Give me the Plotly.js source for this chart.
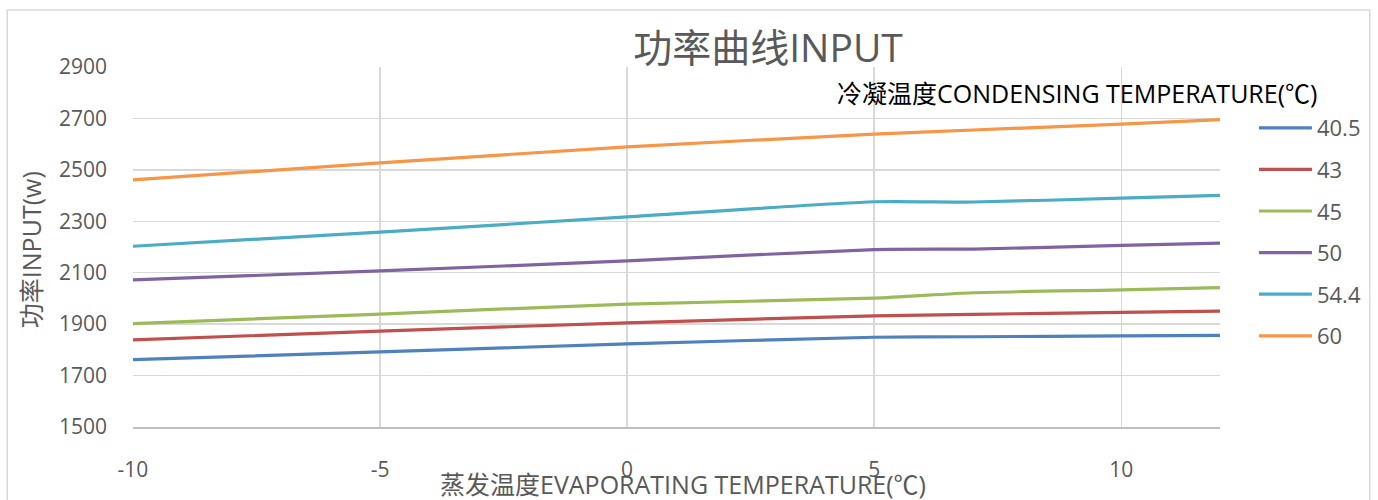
<!DOCTYPE html>
<html>
<head>
<meta charset="utf-8">
<script src="https://cdn.plot.ly/plotly-3.0.1.min.js"></script>
<style>
  html, body { margin: 0; padding: 0; background: #ffffff; }
  #chart { width: 1378px; height: 500px; }
</style>
</head>
<body>
<div id="chart"></div>
<script>
// Evaporating temperature (°C)
const evapTemps = [-10, -5, 0, 5, 7, 10, 12];
// Condensing temperature series names
const seriesNames = ['40.5', '43', '45', '50', '54.4', '60'];
// Power input (W) per condensing temperature
const input405 = [1762, 1792, 1823, 1849, 1851, 1854, 1856];
const input43  = [1839, 1873, 1905, 1932, 1938, 1946, 1951];
const input45  = [1902, 1939, 1978, 2001, 2022, 2033, 2042];
const input50  = [2072, 2107, 2146, 2190, 2192, 2206, 2215];
const input544 = [2203, 2258, 2317, 2376, 2375, 2390, 2401];
const input60  = [2461, 2527, 2589, 2639, 2655, 2678, 2695];
const xTicks = [-10, -5, 0, 5, 10];
const yTicks = [1500, 1700, 1900, 2100, 2300, 2500, 2700, 2900];

const seriesValues = [input405, input43, input45, input50, input544, input60];
const colors = ['#4f81bd', '#c0504d', '#9bbb59', '#8064a2', '#4bacc6', '#f79646'];

const FONT = '"Open Sans", "Noto Sans CJK SC", sans-serif';
const GREY = '#595959';

const traces = seriesNames.map((name, i) => ({
  x: evapTemps,
  y: seriesValues[i],
  name: name,
  type: 'scatter',
  mode: 'lines',
  line: { color: colors[i], width: 3.2, shape: 'spline', smoothing: 0.6 },
  legendgroup: 'g' + i,
  hoverinfo: 'x+y+name'
}));

const L = 133, R = 1222, T = 67, B = 427;
const W = R - L, H = B - T;
const px = v => (v - L) / W;
const py = v => (B - v) / H;

const layout = {
  width: 1378,
  height: 500,
  margin: { l: L, r: 1378 - R, t: T, b: 500 - B, pad: 0 },
  paper_bgcolor: '#ffffff',
  plot_bgcolor: '#ffffff',
  font: { family: FONT, color: GREY, size: 21 },
  title: {
    text: '功率曲线INPUT',
    font: { family: FONT, size: 39, color: GREY },
    x: 768 / 1378, xanchor: 'center',
    y: 1 - 48 / 500, yanchor: 'middle'
  },
  xaxis: {
    range: [-10, 12],
    tickvals: xTicks,
    ticktext: xTicks.map(String),
    showgrid: true,
    gridcolor: '#d9d9d9',
    gridwidth: 1.3,
    zeroline: false,
    showline: true,
    linecolor: '#bfbfbf',
    linewidth: 1.5,
    ticks: '',
    ticklabelstandoff: 23,
    tickfont: { family: FONT, size: 21, color: GREY },
    title: { text: '' }
  },
  yaxis: {
    range: [1500, 2900],
    tickvals: yTicks,
    ticktext: yTicks.map(String),
    showgrid: true,
    gridcolor: '#d9d9d9',
    gridwidth: 1.3,
    zeroline: false,
    showline: false,
    ticks: '',
    ticklabelstandoff: 25,
    tickfont: { family: FONT, size: 21, color: GREY },
    title: { text: '' }
  },
  showlegend: true,
  legend: {
    x: px(1256), xanchor: 'left',
    y: py(107), yanchor: 'top',
    font: { family: FONT, size: 22, color: GREY },
    tracegroupgap: 10,
    itemwidth: 53,
    bgcolor: 'rgba(0,0,0,0)',
    borderwidth: 0
  },
  annotations: [
    {
      text: '冷凝温度CONDENSING TEMPERATURE(℃)',
      xref: 'paper', yref: 'paper',
      x: px(1079), y: py(93), xanchor: 'center', yanchor: 'middle',
      showarrow: false,
      font: { family: FONT, size: 25, color: '#000000' }
    },
    {
      text: '蒸发温度EVAPORATING TEMPERATURE(℃)',
      xref: 'paper', yref: 'paper',
      x: px(684), y: py(484), xanchor: 'center', yanchor: 'middle',
      showarrow: false,
      font: { family: FONT, size: 25, color: GREY }
    },
    {
      text: '功率INPUT(w)',
      xref: 'paper', yref: 'paper',
      x: px(31), y: py(250), xanchor: 'center', yanchor: 'middle',
      textangle: -90,
      showarrow: false,
      font: { family: FONT, size: 25, color: GREY }
    }
  ],
  shapes: [
    {
      type: 'rect', xref: 'paper', yref: 'paper',
      x0: px(7), x1: px(1372), y0: py(520), y1: py(10),
      line: { color: '#d9d9d9', width: 1.5 },
      fillcolor: 'rgba(0,0,0,0)',
      layer: 'below'
    }
  ]
};

Plotly.newPlot('chart', traces, layout, { displayModeBar: false, staticPlot: true });
</script>
</body>
</html>
